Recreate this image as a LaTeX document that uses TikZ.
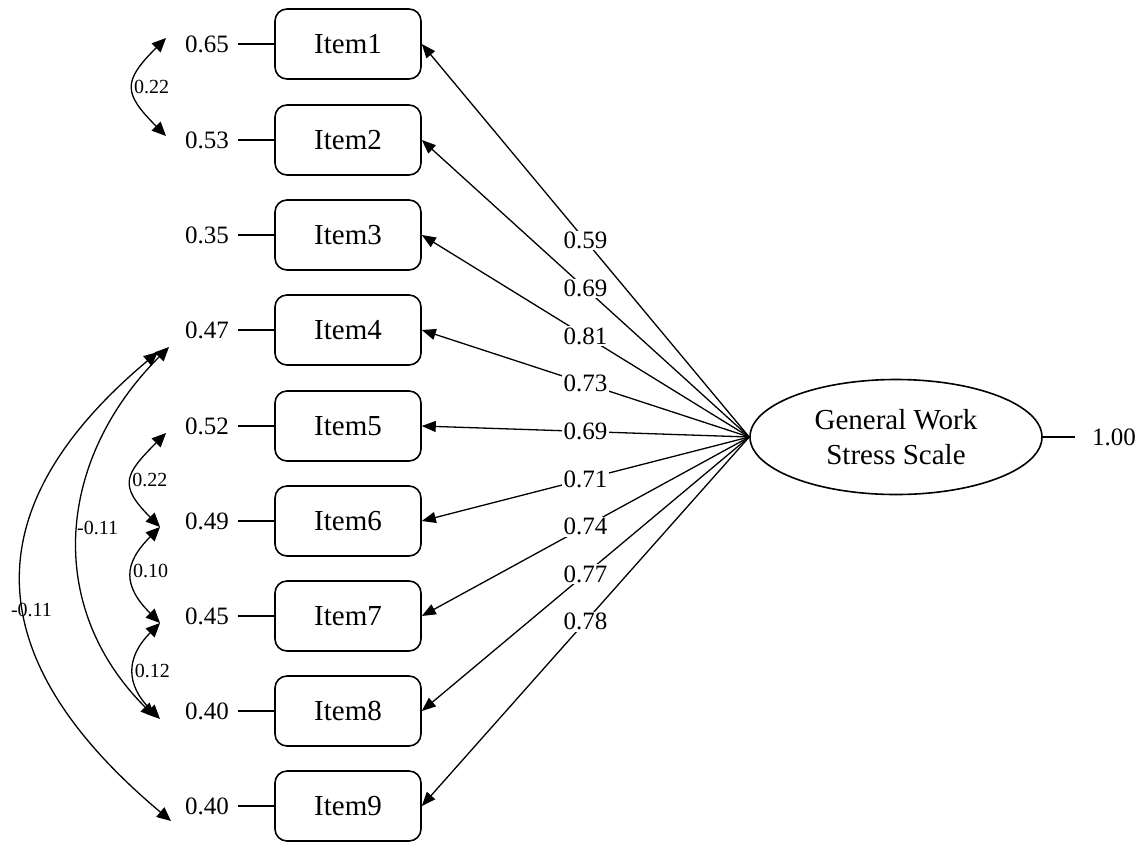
\documentclass[tikz,border=0pt]{standalone}
\usepackage{fontspec}
\setmainfont{Liberation Serif}
\usetikzlibrary{shapes.geometric,arrows.meta}
\begin{document}
\begin{tikzpicture}[x=1pt,y=1pt,
  item/.style={draw, rounded corners=12pt, minimum width=146pt, minimum height=70pt, line width=1.6pt, font=\fontsize{29}{34}\selectfont, inner sep=0},
  errlbl/.style={font=\fontsize{25}{30}\selectfont, inner sep=0},
  load/.style={-{Triangle[length=14pt,width=11pt]}, line width=1.3pt},
  loadlbl/.style={fill=white, inner sep=1.5pt, font=\fontsize{25}{30}\selectfont},
  cov/.style={{Triangle[length=14pt,width=12.5pt]}-{Triangle[length=14pt,width=12.5pt]}, line width=1.3pt},
  covlbl/.style={font=\fontsize{20}{24}\selectfont, inner sep=0},
  resid/.style={line width=1.3pt}]
\useasboundingbox (0,0) rectangle (1147,-841);

% latent factor
\node[draw, ellipse, minimum width=292pt, minimum height=115pt, inner sep=0, line width=1.6pt, align=center, font=\fontsize{29}{35}\selectfont] (F) at (896,-437) {General Work\\Stress Scale};
\node[errlbl, anchor=west] (r) at (1092,-437) {1.00};
\draw[resid] (F.east) -- ([xshift=-17pt]r.west);

% items, residuals, loadings
\foreach \i/\y/\e/\l in {1/44/0.65/0.59, 2/140/0.53/0.69, 3/235/0.35/0.81, 4/330/0.47/0.73, 5/426/0.52/0.69, 6/521/0.49/0.71, 7/616/0.45/0.74, 8/711/0.40/0.77, 9/806/0.40/0.78}{
  \node[item] (I\i) at (348,-\y) {Item\i};
  \node[errlbl, anchor=east] (e\i) at (229,-\y) {\e};
  \draw[resid] ([xshift=9pt]e\i.east) -- (I\i.west);
  \draw[load] (F.west) -- (I\i.east) node[loadlbl, midway] (L\i) {\l};
}

% covariance end points
\coordinate (c1) at (166,-38);
\coordinate (c2) at (166,-136);
\coordinate (c4a) at (169,-347);
\coordinate (c4b) at (158,-352);
\coordinate (c5) at (166,-433);
\coordinate (c6) at (160,-527);
\coordinate (c7) at (160,-623);
\coordinate (c8a) at (155,-717);
\coordinate (c8b) at (160,-719);
\coordinate (c9) at (171,-821);

\draw[cov] (c1) to[out=225,in=135,looseness=1.6] node[covlbl, anchor=west, pos=0.5] (k12) {0.22} (c2);
\draw[cov] (c5) to[out=225,in=135,looseness=1.6] node[covlbl, anchor=west, pos=0.5] (k56) {0.22} (c6);
\draw[cov] (c6) to[out=225,in=135,looseness=1.4] node[covlbl, anchor=west, pos=0.45] (k67) {0.10} (c7);
\draw[cov] (c7) to[out=225,in=135,looseness=1.3] node[covlbl, anchor=west, pos=0.5] (k78) {0.12} (c8b);
\draw[cov] (c4a) to[out=225,in=135,looseness=1.09] node[covlbl, anchor=west, pos=0.49, xshift=-2pt] (k48) {-0.11} (c8a);
\draw[cov] (c4b) to[out=220,in=140,looseness=1.35] node[covlbl, pos=0.55, xshift=7pt] (k49) {-0.11} (c9);
\end{tikzpicture}
\end{document}
